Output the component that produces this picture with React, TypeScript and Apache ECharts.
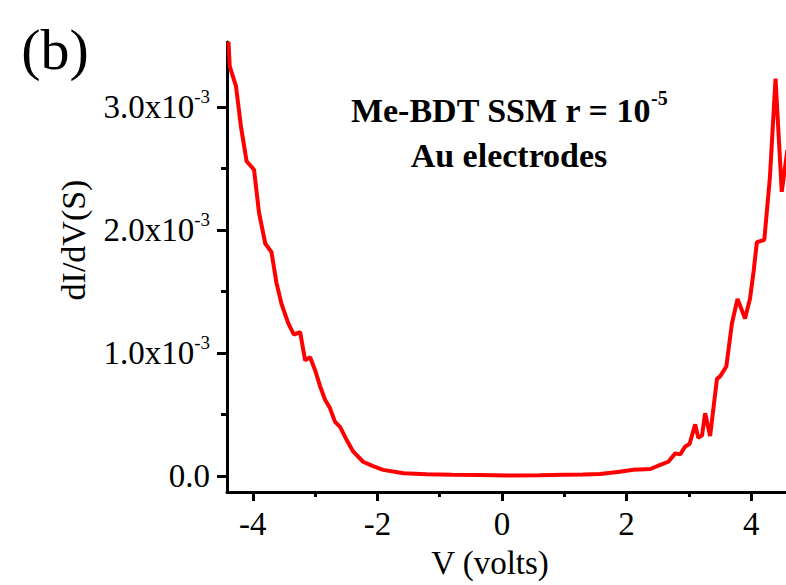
import React, { useEffect, useRef } from "react";
import * as echarts from "echarts";

// Bias voltage (V)
const voltage: number[] = [
  -4.39, -4.37, -4.27, -4.19, -4.1, -3.98, -3.9, -3.8, -3.7, -3.62, -3.54, -3.43, -3.34, -3.24,
  -3.16, -3.08, -3.0, -2.92, -2.84, -2.76, -2.68, -2.6, -2.49, -2.39, -2.23, -2.07, -1.91, -1.58,
  -1.21, -0.8, -0.35, 0.1, 0.6, 1.0, 1.3, 1.57, 1.89, 2.11, 2.38, 2.54, 2.67, 2.78, 2.86, 2.94,
  3.01, 3.1, 3.15, 3.21, 3.26, 3.34, 3.45, 3.5, 3.6, 3.69, 3.78, 3.9, 3.98, 4.04, 4.09, 4.21,
  4.3, 4.39, 4.49, 4.58,
];
// dI/dV in units of 1e-3 S
const dIdV_mS: number[] = [
  3.53, 3.33, 3.17, 2.84, 2.56, 2.49, 2.14, 1.89, 1.82, 1.57, 1.4, 1.24, 1.15, 1.17,
  0.94, 0.965, 0.86, 0.73, 0.62, 0.55, 0.44, 0.4, 0.29, 0.2, 0.116, 0.08, 0.05, 0.022,
  0.014, 0.01, 0.008, 0.004, 0.006, 0.01, 0.013, 0.016, 0.035, 0.05, 0.057, 0.09, 0.116, 0.184, 0.176, 0.24,
  0.26, 0.42, 0.31, 0.33, 0.51, 0.325, 0.79, 0.81, 0.89, 1.24, 1.44, 1.28, 1.44, 1.67, 1.9, 1.92,
  2.43, 3.23, 2.31, 2.65,
];

const xMajorTicks: number[] = [-4, -2, 0, 2, 4];
const xMinorTicks: number[] = [-3, -1, 1, 3];
const yMajorTicks: number[] = [0, 1e-3, 2e-3, 3e-3];
const yMinorTicks: number[] = [0.5e-3, 1.5e-3, 2.5e-3];

const xLabel = "V (volts)";
const yLabel = "dI/dV(S)";
const panelLabel = "(b)";
const annotationLine1 = "Me-BDT SSM r = 10";
const annotationSup = "-5";
const annotationLine2 = "Au electrodes";

const X_MIN = -4.414;
const X_MAX = 4.558;
const Y_MIN = -0.13e-3;
const Y_MAX = 3.528e-3;

const SERIF = "Liberation Serif, Times New Roman, serif";

export default function App() {
  const ref = useRef<HTMLDivElement>(null);
  useEffect(() => {
    document.body.style.margin = "0";
    if (!ref.current) return;
    const chart = echarts.init(ref.current, undefined, { renderer: "svg" });
    const data = voltage.map((v, i) => [v, dIdV_mS[i] * 1e-3]);
    const axisColor = "#000";
    chart.setOption({
      animation: false,
      backgroundColor: "#fff",
      grid: { left: 227, top: 42, right: 0, bottom: 93, containLabel: false },
      xAxis: [
        {
          type: "value",
          min: X_MIN,
          max: X_MAX,
          position: "bottom",
          axisLine: { show: true, onZero: false, lineStyle: { color: axisColor, width: 3 } },
          axisTick: { show: true, customValues: xMajorTicks, length: 9, lineStyle: { color: axisColor, width: 3 } },
          axisLabel: {
            show: true,
            customValues: xMajorTicks,
            margin: 15,
            color: "#000",
            fontFamily: SERIF,
            fontSize: 33,
            formatter: (v: number) => String(Math.round(v)),
          },
          splitLine: { show: false },
        },
        {
          type: "value",
          min: X_MIN,
          max: X_MAX,
          position: "bottom",
          axisLine: { show: false, onZero: false },
          axisTick: { show: true, customValues: xMinorTicks, length: 5, lineStyle: { color: axisColor, width: 3 } },
          axisLabel: { show: false },
          splitLine: { show: false },
        },
      ],
      yAxis: [
        {
          type: "value",
          min: Y_MIN,
          max: Y_MAX,
          position: "left",
          axisLine: { show: true, onZero: false, lineStyle: { color: axisColor, width: 3 } },
          axisTick: { show: true, customValues: yMajorTicks, length: 10, lineStyle: { color: axisColor, width: 3 } },
          axisLabel: {
            show: true,
            customValues: yMajorTicks,
            margin: 17,
            color: "#000",
            fontFamily: SERIF,
            fontSize: 33,
            formatter: (v: number) => {
              if (Math.abs(v) < 1e-9) return "{a|0.0}";
              return `{a|${(v * 1e3).toFixed(1)}x10}{s|-3}`;
            },
            rich: {
              a: { fontFamily: SERIF, fontSize: 33, lineHeight: 40, color: "#000" },
              s: { fontFamily: SERIF, fontSize: 19, lineHeight: 14, verticalAlign: "top", color: "#000" },
            },
          },
          splitLine: { show: false },
        },
        {
          type: "value",
          min: Y_MIN,
          max: Y_MAX,
          position: "left",
          axisLine: { show: false, onZero: false },
          axisTick: { show: true, customValues: yMinorTicks, length: 6, lineStyle: { color: axisColor, width: 3 } },
          axisLabel: { show: false },
          splitLine: { show: false },
        },
      ],
      graphic: [
        {
          type: "text",
          x: 55,
          y: 49,
          style: {
            text: panelLabel,
            fontFamily: SERIF,
            fontSize: 58,
            fill: "#000",
            textAlign: "center",
            textVerticalAlign: "middle",
          },
        },
        {
          type: "text",
          x: 73,
          y: 240,
          rotation: Math.PI / 2,
          style: {
            text: yLabel,
            fontFamily: SERIF,
            fontSize: 34,
            fill: "#000",
            textAlign: "center",
            textVerticalAlign: "middle",
          },
        },
        {
          type: "text",
          x: 490,
          y: 563,
          style: {
            text: xLabel,
            fontFamily: SERIF,
            fontSize: 33,
            fill: "#000",
            textAlign: "center",
            textVerticalAlign: "middle",
          },
        },
        {
          type: "text",
          x: 509,
          y: 88,
          style: {
            text: `{a|${annotationLine1}}{s|${annotationSup}}\n{a|${annotationLine2}}`,
            textAlign: "center",
            textVerticalAlign: "top",
            fill: "#000",
            rich: {
              a: { fontFamily: SERIF, fontWeight: "bold", fontSize: 34, lineHeight: 45, fill: "#000" },
              s: { fontFamily: SERIF, fontWeight: "bold", fontSize: 20, lineHeight: 20, verticalAlign: "top", fill: "#000" },
            },
          },
        },
      ],
      series: [
        {
          type: "line",
          xAxisIndex: 0,
          yAxisIndex: 0,
          data,
          showSymbol: false,
          symbol: "none",
          clip: true,
          lineStyle: { color: "#ff0000", width: 4 },
          itemStyle: { color: "#ff0000" },
        },
      ],
    });
    return () => chart.dispose();
  }, []);
  return <div ref={ref} style={{ width: 786, height: 585 }} />;
}
